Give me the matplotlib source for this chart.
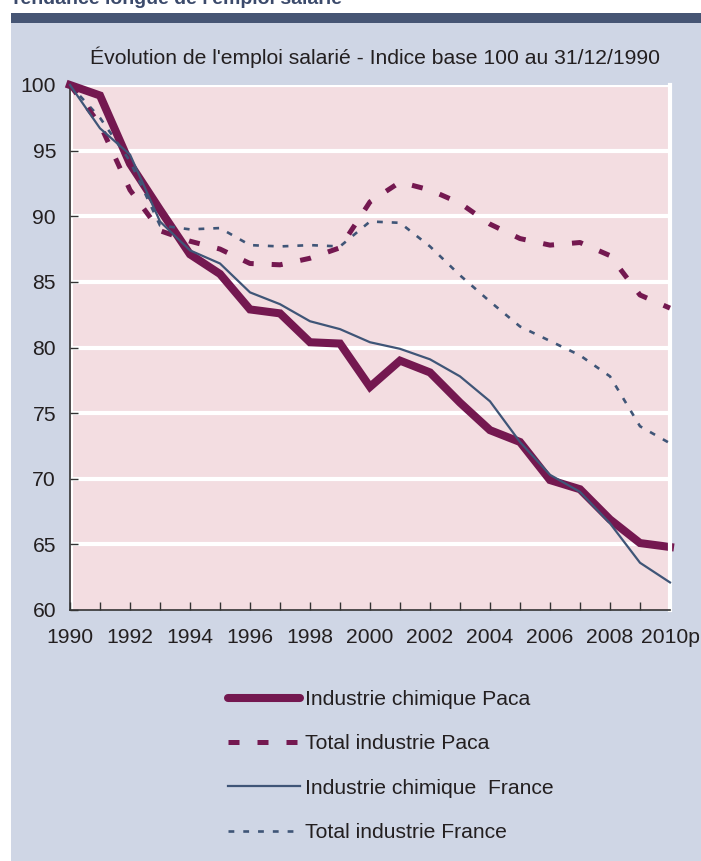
import matplotlib
matplotlib.use("Agg")
import matplotlib.pyplot as plt
from matplotlib.patches import Rectangle
from matplotlib.lines import Line2D

plt.rcParams['font.family'] = ['Liberation Sans', 'DejaVu Sans']

years = list(range(1990, 2011))
xlabels = ['1990', '', '1992', '', '1994', '', '1996', '', '1998', '', '2000', '',
           '2002', '', '2004', '', '2006', '', '2008', '', '2010p']

chimie_paca = [100, 99.2, 94.0, 90.5, 87.1, 85.6, 82.9, 82.6, 80.4, 80.3, 77.0,
               79.0, 78.1, 75.8, 73.7, 72.8, 69.9, 69.2, 66.9, 65.1, 64.8]
total_paca = [100, 97.0, 92.0, 88.9, 88.1, 87.5, 86.4, 86.3, 86.8, 87.6, 91.1,
              92.6, 92.0, 91.0, 89.4, 88.3, 87.8, 88.0, 87.0, 84.0, 83.0]
chimie_france = [100, 96.7, 94.7, 89.6, 87.4, 86.4, 84.2, 83.3, 82.0, 81.4, 80.4,
                 79.9, 79.1, 77.8, 75.9, 72.8, 70.3, 69.0, 66.6, 63.6, 62.1]
total_france = [100, 97.5, 94.2, 89.3, 89.0, 89.1, 87.8, 87.7, 87.8, 87.7, 89.6,
                89.5, 87.7, 85.5, 83.5, 81.6, 80.5, 79.4, 77.8, 74.0, 72.7]

series_names = ['Industrie chimique Paca', 'Total industrie Paca',
                'Industrie chimique  France', 'Total industrie France']

PURPLE = '#741850'
NAVY = '#3f5577'
BG = '#cfd6e5'
PINK = '#f3dde1'
TXT = '#231f20'
FS = 15.2

W, H = 701, 861
fig = plt.figure(figsize=(W / 100, H / 100), dpi=100)
fig.patch.set_facecolor('white')

# frame background and header bar
fig.patches.append(Rectangle((11 / W, 0), 1 - 11 / W, 1 - 23 / H,
                             transform=fig.transFigure, facecolor=BG,
                             edgecolor='none', zorder=-5))
fig.patches.append(Rectangle((11 / W, 1 - 23 / H), 1 - 11 / W, 10 / H,
                             transform=fig.transFigure, facecolor='#465574',
                             edgecolor='none', zorder=-5))
fig.text(10 / W, 1 - 4 / H, "Tendance longue de l'emploi salarié",
         fontsize=14, fontweight='bold', color='#3b4a6b', va='baseline', ha='left')

fig.text(375 / W, 1 - 57 / H,
         "Évolution de l'emploi salarié - Indice base 100 au 31/12/1990",
         fontsize=FS, color=TXT, ha='center', va='center')

ax = fig.add_axes([70 / W, (H - 610) / H, 600 / W, 525 / H])
ax.set_zorder(2)
ax.set_facecolor(PINK)
ax.set_xlim(1990, 2010)
ax.set_ylim(60, 100)

for v in range(65, 101, 5):
    ax.axhline(v, color='white', lw=3, zorder=1)
ax.axvline(1990.07, color='white', lw=1.5, zorder=1)

ax.plot(years, total_france, color=NAVY, lw=1.9, dashes=(2.2, 3.4),
        zorder=3, clip_on=False, label=series_names[3])
ax.plot(years, chimie_france, color=NAVY, lw=1.6, zorder=4, clip_on=False,
        label=series_names[2])
ax.plot(years, total_paca, color=PURPLE, lw=3.6, dashes=(2.2, 3.6),
        zorder=3, clip_on=False, label=series_names[1])
ax.plot(years, chimie_paca, color=PURPLE, lw=5.8, zorder=2, clip_on=False,
        solid_joinstyle='miter', label=series_names[0])

ax.set_xticks(years)
ax.set_xticklabels(xlabels)
ax.set_yticks(range(60, 101, 5))
ax.tick_params(axis='both', direction='in', length=6, width=1, color='#333333',
               labelsize=FS, labelcolor=TXT)
ax.tick_params(axis='y', pad=10)
ax.tick_params(axis='x', pad=13)

ax.spines['top'].set_visible(False)
ax.spines['right'].set_color('white')
ax.spines['right'].set_linewidth(3)
ax.spines['left'].set_color('#333333')
ax.spines['left'].set_linewidth(1.2)
ax.spines['bottom'].set_color('#333333')
ax.spines['bottom'].set_linewidth(1.2)

handles = [
    Line2D([], [], color=PURPLE, lw=5.8, solid_capstyle='round'),
    Line2D([], [], color=PURPLE, lw=3.6, dashes=(2.2, 3.6)),
    Line2D([], [], color=NAVY, lw=1.6),
    Line2D([], [], color=NAVY, lw=1.9, dashes=(2.2, 3.4)),
]
fig.legend(handles, series_names, loc='upper left',
           bbox_to_anchor=(209 / W, 1 - 671 / H), frameon=False,
           fontsize=FS, handlelength=3.4, handletextpad=0.25,
           labelspacing=1.2, labelcolor=TXT)

fig.savefig('out.png', dpi=100, facecolor=fig.get_facecolor())
